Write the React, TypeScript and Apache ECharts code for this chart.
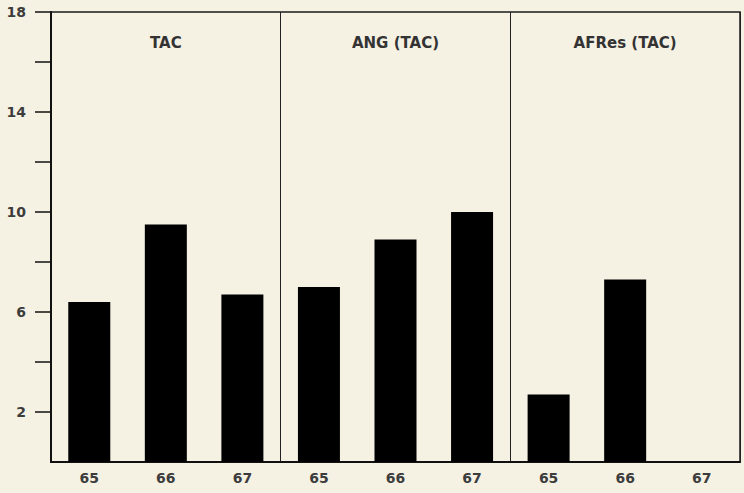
import React, { useEffect, useRef } from "react";
import * as echarts from "echarts";

const panels = ["TAC", "ANG (TAC)", "AFRes (TAC)"];
const years = ["65", "66", "67"];
const tacValues = [6.4, 9.5, 6.7];
const angValues = [7.0, 8.9, 10.0];
const afresValues = [2.7, 7.3, null];
const yTickValues = [2, 4, 6, 8, 10, 12, 14, 16, 18];
const yLabelValues = [2, 6, 10, 14, 18];

const FONT = "'DejaVu Sans', sans-serif";

export default function App() {
  const ref = useRef<HTMLDivElement>(null);
  useEffect(() => {
    if (!ref.current) return;
    const chart = echarts.init(ref.current, null, { renderer: "svg" });
    const categories = [...years, ...years, ...years];
    const values = [...tacValues, ...angValues, ...afresValues];
    const W = 744;
    const left = 51;
    const right = 4;
    const plotW = W - left - right;
    const panelW = plotW / panels.length;
    chart.setOption({
      animation: false,
      backgroundColor: "#f5f1e3",
      grid: {
        left,
        right,
        top: 12,
        bottom: 31,
        show: true,
        borderColor: "#1a1a1a",
        borderWidth: 1.5,
        backgroundColor: "transparent",
      },
      xAxis: {
        type: "category",
        data: categories,
        axisLine: { show: true, lineStyle: { color: "#111", width: 2 } },
        axisTick: { show: false },
        axisLabel: {
          color: "#3c3c3c",
          fontSize: 14,
          fontFamily: FONT,
          fontWeight: "bold",
          margin: 9,
        },
        splitLine: {
          show: true,
          interval: (i: number) => i === 3 || i === 6,
          lineStyle: { color: "#222", width: 1 },
        },
      },
      yAxis: {
        type: "value",
        min: 0,
        max: 18,
        interval: 2,
        axisLine: { show: true, lineStyle: { color: "#111", width: 2 } },
        axisTick: {
          show: true,
          length: 16,
          customValues: yTickValues,
          lineStyle: { color: "#111", width: 1.5 },
        },
        axisLabel: {
          customValues: yLabelValues,
          color: "#3c3c3c",
          fontSize: 14,
          fontFamily: FONT,
          fontWeight: "bold",
          margin: 25,
        },
        splitLine: { show: false },
      },
      graphic: panels.map((p, i) => ({
        type: "text",
        x: left + panelW * (i + 0.5),
        y: 43,
        style: {
          text: p,
          fill: "#333",
          fontSize: 15,
          fontWeight: "bold",
          fontFamily: FONT,
          align: "center",
          verticalAlign: "middle",
        },
      })),
      series: [
        {
          type: "bar",
          data: values,
          barWidth: 42,
          itemStyle: { color: "#000" },
        },
      ],
    });
    return () => chart.dispose();
  }, []);
  return (
    <div
      ref={ref}
      style={{ position: "fixed", left: 0, top: 0, width: 744, height: 493 }}
    />
  );
}
